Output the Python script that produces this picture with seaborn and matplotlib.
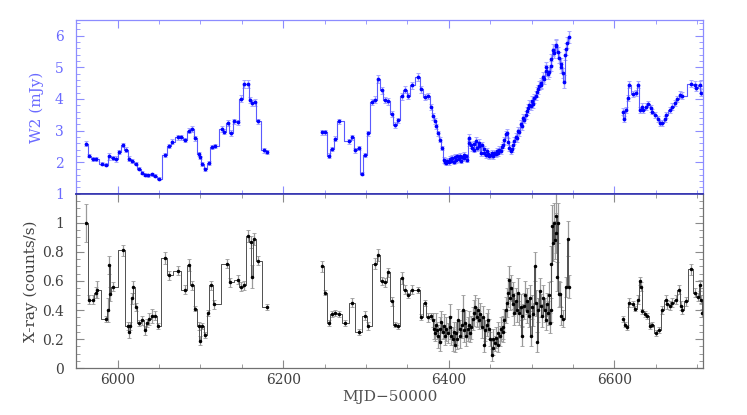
import numpy as np
import pandas as pd
import matplotlib
matplotlib.use("Agg")
import matplotlib.pyplot as plt
import seaborn as sns
from matplotlib.ticker import MultipleLocator, FixedLocator

# ---- W2 (UVOT) light curve, MJD-50000 / mJy ----
w2_t = [5962, 5966, 5970, 5974, 5981, 5986, 5990, 5994, 5998, 6002,
        6006, 6010, 6014, 6018, 6022, 6026, 6030, 6033, 6037, 6041,
        6045, 6050, 6057, 6062, 6066, 6073, 6077, 6082, 6086, 6090,
        6094, 6098, 6099, 6102, 6106, 6110, 6114, 6118, 6126, 6129,
        6133, 6137, 6141, 6145, 6149, 6153, 6157, 6160, 6162, 6166,
        6169, 6177, 6181,
        6247, 6251, 6255, 6259, 6263, 6267, 6280, 6283, 6287, 6291,
        6295, 6299, 6303, 6307, 6311, 6315, 6319, 6323, 6327, 6331,
        6335, 6339, 6343, 6347, 6351, 6355, 6363, 6367, 6371, 6375,
        6379, 6381, 6383, 6385, 6387, 6390, 6392,
        6394, 6395, 6397, 6398, 6400, 6401, 6403, 6404, 6406, 6407,
        6409, 6410, 6412, 6413, 6415, 6416, 6418, 6419, 6421, 6422,
        6424, 6425, 6427, 6428, 6430, 6431, 6433, 6434, 6436, 6437,
        6439, 6440, 6442, 6443, 6445, 6446, 6448, 6449, 6451, 6452,
        6454, 6455, 6457, 6458, 6460, 6461, 6463, 6464, 6466, 6467,
        6469, 6470, 6472, 6473, 6475, 6476, 6478, 6479, 6481, 6482,
        6484, 6485, 6487, 6488, 6490, 6491, 6493, 6494, 6496, 6497,
        6499, 6500, 6502, 6503, 6505, 6506, 6508, 6509, 6511, 6512,
        6514, 6515, 6517, 6518, 6520, 6521, 6523, 6524, 6526, 6527,
        6529, 6530, 6532, 6533, 6535, 6536, 6538, 6539, 6541, 6542,
        6543, 6545,
        6610, 6612, 6614, 6616, 6618, 6622, 6626, 6629, 6631, 6633,
        6635, 6638, 6641, 6644, 6646, 6649, 6653, 6655, 6658, 6661,
        6663, 6667, 6670, 6673, 6676, 6679, 6682, 6693, 6697, 6699,
        6703, 6705]
w2 = [2.58, 2.21, 2.10, 2.10, 1.95, 1.92, 2.18, 2.13, 2.10, 2.31,
      2.54, 2.39, 2.11, 2.05, 1.95, 1.79, 1.67, 1.60, 1.58, 1.62,
      1.57, 1.48, 2.23, 2.52, 2.65, 2.79, 2.79, 2.71, 3.00, 3.06,
      2.75, 2.26, 2.15, 1.95, 1.78, 1.97, 2.48, 2.52, 3.05, 2.97,
      3.24, 2.92, 3.29, 3.26, 4.00, 4.48, 4.48, 3.97, 3.87, 3.89,
      3.29, 2.37, 2.31,
      2.94, 2.95, 2.21, 2.41, 2.74, 3.29, 2.66, 2.79, 2.37, 2.45,
      1.63, 2.23, 2.92, 3.90, 3.97, 4.64, 4.27, 3.97, 3.92, 3.53,
      3.18, 3.32, 4.08, 4.29, 4.10, 4.43, 4.69, 4.31, 4.06, 4.10,
      3.74, 3.45, 3.30, 3.13, 2.92, 2.71, 2.45,
      2.08, 2.02, 1.98, 2.05, 2.00, 2.10, 2.05, 2.12, 2.02, 2.15,
      2.08, 2.18, 2.10, 2.20, 2.05, 2.15, 2.22, 2.12, 2.18, 2.08,
      2.78, 2.62, 2.55, 2.45, 2.40, 2.58, 2.68, 2.45, 2.62, 2.50,
      2.30, 2.55, 2.42, 2.30, 2.22, 2.35, 2.25, 2.18, 2.22, 2.28,
      2.20, 2.30, 2.25, 2.35, 2.28, 2.40, 2.35, 2.48, 2.55, 2.70,
      2.88, 2.92, 2.65, 2.45, 2.35, 2.42, 2.55, 2.68, 2.80, 2.75,
      3.00, 2.95, 3.20, 3.15, 3.40, 3.35, 3.50, 3.62, 3.70, 3.82,
      3.78, 3.95, 3.85, 4.02, 4.10, 4.22, 4.30, 4.42, 4.50, 4.45,
      4.70, 4.62, 4.90, 5.02, 4.78, 4.85, 5.05, 5.25, 5.55, 5.45,
      5.68, 5.72, 5.48, 5.30, 5.12, 5.00, 4.82, 4.55, 5.40, 5.58,
      5.78, 5.95,
      3.60, 3.36, 3.66, 4.03, 4.45, 4.16, 4.19, 4.45, 3.66, 3.76,
      3.66, 3.76, 3.85, 3.70, 3.60, 3.50, 3.36, 3.24, 3.25, 3.36,
      3.50, 3.66, 3.76, 3.87, 4.00, 4.14, 4.10, 4.48, 4.45, 4.35,
      4.45, 4.20]
w2_err = [0.08, 0.06, 0.06, 0.06, 0.05, 0.05, 0.10, 0.07, 0.08, 0.06,
          0.07, 0.08, 0.07, 0.06, 0.05, 0.05, 0.05, 0.05, 0.05, 0.05,
          0.05, 0.04, 0.06, 0.07, 0.07, 0.08, 0.08, 0.07, 0.08, 0.09,
          0.08, 0.07, 0.06, 0.06, 0.05, 0.06, 0.07, 0.07, 0.09, 0.08,
          0.09, 0.09, 0.09, 0.09, 0.11, 0.12, 0.12, 0.10, 0.10, 0.11,
          0.09, 0.07, 0.06,
          0.08, 0.08, 0.07, 0.07, 0.08, 0.09, 0.08, 0.08, 0.07, 0.07,
          0.05, 0.07, 0.08, 0.10, 0.11, 0.12, 0.11, 0.10, 0.10, 0.09,
          0.09, 0.09, 0.11, 0.11, 0.10, 0.12, 0.12, 0.11, 0.10, 0.10,
          0.10, 0.10, 0.09, 0.09, 0.08, 0.08, 0.07,
          0.09, 0.08, 0.08, 0.09, 0.08, 0.09, 0.08, 0.10, 0.08, 0.10,
          0.09, 0.09, 0.08, 0.10, 0.09, 0.09, 0.10, 0.09, 0.09, 0.08,
          0.11, 0.10, 0.10, 0.09, 0.09, 0.10, 0.11, 0.10, 0.11, 0.10,
          0.09, 0.10, 0.10, 0.09, 0.09, 0.10, 0.09, 0.08, 0.09, 0.09,
          0.09, 0.09, 0.09, 0.10, 0.09, 0.10, 0.09, 0.10, 0.10, 0.11,
          0.11, 0.12, 0.11, 0.10, 0.09, 0.10, 0.10, 0.11, 0.11, 0.11,
          0.12, 0.11, 0.12, 0.12, 0.13, 0.12, 0.13, 0.13, 0.13, 0.14,
          0.13, 0.14, 0.13, 0.14, 0.14, 0.15, 0.14, 0.15, 0.15, 0.15,
          0.16, 0.15, 0.16, 0.16, 0.15, 0.16, 0.16, 0.17, 0.18, 0.17,
          0.18, 0.18, 0.17, 0.17, 0.16, 0.17, 0.16, 0.20, 0.17, 0.18,
          0.18, 0.19,
          0.10, 0.09, 0.10, 0.10, 0.11, 0.10, 0.10, 0.11, 0.10, 0.10,
          0.10, 0.10, 0.10, 0.10, 0.09, 0.09, 0.09, 0.09, 0.09, 0.09,
          0.09, 0.10, 0.10, 0.10, 0.10, 0.11, 0.11, 0.11, 0.11, 0.11,
          0.11, 0.11]

# ---- X-ray (XRT) light curve, counts/s ----
xr_t = [5962, 5966, 5970, 5974, 5975, 5986, 5989, 5990, 5991, 5994,
        6006, 6012, 6014, 6015, 6018, 6019, 6022, 6026, 6030, 6033,
        6036, 6038, 6042, 6045, 6049, 6057, 6062, 6073, 6081, 6086,
        6090, 6094, 6098, 6099, 6102, 6106, 6109, 6113, 6117, 6132,
        6136, 6145, 6149, 6153, 6157, 6161, 6162, 6165, 6169, 6181,
        6247, 6251, 6255, 6259, 6263, 6267, 6275, 6283, 6291, 6299,
        6303, 6311, 6315, 6319, 6323, 6327, 6331, 6335, 6339, 6343,
        6347, 6351, 6355, 6363, 6367, 6371, 6375, 6379,
        6381, 6382, 6383, 6384, 6386, 6387, 6389, 6390, 6391, 6393,
        6394, 6396, 6397, 6399, 6401, 6402, 6403, 6405, 6406, 6407,
        6409, 6410, 6411, 6413, 6414, 6416, 6417, 6419, 6420, 6421,
        6423, 6424, 6426, 6427, 6429, 6431, 6432, 6434, 6435, 6437,
        6438, 6440, 6441, 6443, 6444, 6446, 6447, 6449, 6450, 6452,
        6453, 6454, 6456, 6457, 6459, 6460, 6462, 6463, 6465, 6466,
        6467, 6469, 6470, 6472, 6473, 6474, 6475, 6477, 6478, 6479,
        6481, 6482, 6484, 6485, 6487, 6488, 6489, 6491, 6492, 6494,
        6495, 6497, 6498, 6499, 6501, 6502, 6504, 6505, 6507, 6508,
        6510, 6511, 6513, 6514, 6516, 6517, 6519, 6520, 6521, 6522,
        6523, 6524, 6525, 6526, 6527, 6528, 6529, 6530, 6531, 6532,
        6533, 6534, 6536, 6538, 6542, 6544, 6545,
        6610, 6613, 6615, 6618, 6622, 6625, 6629, 6631, 6632, 6634,
        6637, 6640, 6643, 6646, 6650, 6654, 6658, 6662, 6664, 6667,
        6670, 6674, 6678, 6681, 6682, 6686, 6693, 6697, 6701, 6703,
        6705, 6706]
xr = [1.00, 0.47, 0.47, 0.52, 0.54, 0.34, 0.40, 0.71, 0.51, 0.56,
      0.81, 0.29, 0.25, 0.29, 0.48, 0.56, 0.42, 0.31, 0.33, 0.26,
      0.31, 0.34, 0.36, 0.36, 0.29, 0.76, 0.64, 0.67, 0.54, 0.71,
      0.57, 0.41, 0.29, 0.19, 0.29, 0.23, 0.38, 0.57, 0.44, 0.72,
      0.59, 0.61, 0.56, 0.57, 0.91, 0.87, 0.63, 0.89, 0.74, 0.42,
      0.70, 0.52, 0.31, 0.37, 0.38, 0.37, 0.31, 0.45, 0.25, 0.36,
      0.29, 0.72, 0.78, 0.60, 0.59, 0.66, 0.46, 0.30, 0.29, 0.62,
      0.54, 0.50, 0.54, 0.54, 0.35, 0.45, 0.35, 0.36,
      0.33, 0.27, 0.24, 0.30, 0.26, 0.22, 0.18, 0.27, 0.32, 0.25,
      0.29, 0.22, 0.27, 0.24, 0.35, 0.28, 0.22, 0.20, 0.25, 0.16,
      0.24, 0.20, 0.33, 0.27, 0.22, 0.30, 0.40, 0.26, 0.31, 0.22,
      0.27, 0.30, 0.24, 0.28, 0.34, 0.38, 0.42, 0.35, 0.40, 0.33,
      0.37, 0.28, 0.35, 0.16, 0.26, 0.30, 0.33, 0.27, 0.20, 0.09,
      0.14, 0.20, 0.17, 0.21, 0.16, 0.24, 0.22, 0.27, 0.25, 0.28,
      0.33, 0.40, 0.45, 0.52, 0.61, 0.48, 0.55, 0.44, 0.50, 0.38,
      0.46, 0.40, 0.52, 0.38, 0.42, 0.22, 0.36, 0.43, 0.50, 0.39,
      0.46, 0.36, 0.48, 0.22, 0.42, 0.37, 0.70, 0.45, 0.18, 0.40,
      0.53, 0.43, 0.36, 0.48, 0.40, 0.33, 0.44, 0.38, 0.50, 0.31,
      0.40, 0.72, 0.98, 0.86, 1.00, 0.88, 0.93, 1.05, 0.63, 1.00,
      0.51, 0.51, 0.36, 0.34, 0.56, 0.89, 0.56,
      0.34, 0.30, 0.28, 0.45, 0.44, 0.41, 0.47, 0.60, 0.56, 0.39,
      0.37, 0.36, 0.29, 0.30, 0.24, 0.26, 0.40, 0.47, 0.44, 0.43,
      0.45, 0.47, 0.54, 0.43, 0.40, 0.46, 0.68, 0.52, 0.49, 0.57,
      0.47, 0.38]
xr_err = [0.13, 0.03, 0.03, 0.04, 0.06, 0.02, 0.08, 0.06, 0.05, 0.03,
          0.04, 0.03, 0.04, 0.03, 0.04, 0.04, 0.03, 0.02, 0.03, 0.03,
          0.03, 0.04, 0.05, 0.03, 0.02, 0.04, 0.03, 0.03, 0.03, 0.04,
          0.03, 0.02, 0.03, 0.03, 0.02, 0.02, 0.02, 0.03, 0.03, 0.03,
          0.03, 0.03, 0.03, 0.03, 0.04, 0.04, 0.08, 0.04, 0.03, 0.02,
          0.04, 0.02, 0.02, 0.02, 0.02, 0.02, 0.02, 0.03, 0.02, 0.03,
          0.03, 0.04, 0.04, 0.03, 0.03, 0.03, 0.03, 0.02, 0.02, 0.04,
          0.03, 0.02, 0.03, 0.02, 0.02, 0.02, 0.03, 0.02,
          0.05, 0.07, 0.05, 0.08, 0.06, 0.08, 0.06, 0.08, 0.07, 0.05,
          0.08, 0.06, 0.08, 0.07, 0.09, 0.08, 0.06, 0.08, 0.07, 0.05,
          0.08, 0.07, 0.08, 0.06, 0.08, 0.09, 0.10, 0.08, 0.09, 0.07,
          0.08, 0.09, 0.06, 0.08, 0.08, 0.09, 0.08, 0.07, 0.08, 0.06,
          0.08, 0.07, 0.08, 0.05, 0.07, 0.08, 0.08, 0.07, 0.05, 0.04,
          0.05, 0.07, 0.05, 0.07, 0.05, 0.08, 0.07, 0.08, 0.07, 0.08,
          0.08, 0.09, 0.10, 0.10, 0.09, 0.08, 0.09, 0.08, 0.09, 0.08,
          0.09, 0.08, 0.10, 0.08, 0.09, 0.07, 0.08, 0.09, 0.10, 0.08,
          0.09, 0.08, 0.09, 0.07, 0.08, 0.08, 0.10, 0.09, 0.07, 0.08,
          0.09, 0.08, 0.08, 0.09, 0.08, 0.07, 0.08, 0.08, 0.09, 0.07,
          0.08, 0.12, 0.14, 0.12, 0.14, 0.13, 0.14, 0.16, 0.10, 0.14,
          0.09, 0.08, 0.06, 0.06, 0.07, 0.12, 0.08,
          0.02, 0.02, 0.02, 0.03, 0.02, 0.02, 0.03, 0.03, 0.03, 0.02,
          0.02, 0.02, 0.02, 0.02, 0.02, 0.02, 0.03, 0.03, 0.03, 0.03,
          0.03, 0.03, 0.03, 0.03, 0.03, 0.03, 0.04, 0.03, 0.03, 0.04,
          0.03, 0.03]


def as_frame(t, v, e):
    df = pd.DataFrame({"t": t, "v": v, "e": e})
    # break the step line across the big observing gaps
    df["seg"] = np.concatenate([[0], np.cumsum(np.diff(df["t"]) > 30)])
    return df


w2_df = as_frame(w2_t, w2, w2_err)
xr_df = as_frame(xr_t, xr, xr_err)

sns.set_style("ticks")
plt.rcParams["font.family"] = ["DejaVu Serif"]
plt.rcParams["font.size"] = 10

fig = plt.figure(figsize=(7.47, 4.15), dpi=100)
ax1 = fig.add_axes([0.102, 0.533, 0.839, 0.419])
ax2 = fig.add_axes([0.102, 0.113, 0.839, 0.420], sharex=ax1)

blue_frame = "#8c8cff"
blue_text = "#6a6aff"

# top: W2
ax1.errorbar(w2_df["t"], w2_df["v"], yerr=w2_df["e"], fmt="none",
             ecolor="#a8a8ff", elinewidth=1.0, capsize=1.6, capthick=0.7)
sns.lineplot(data=w2_df, x="t", y="v", units="seg", estimator=None,
             drawstyle="steps-mid", color="#5a5aff", lw=0.8, ax=ax1)
ax1.plot(w2_df["t"], w2_df["v"], ls="none", marker="o", ms=1.7, color="#0000ff")

# bottom: X-ray
ax2.errorbar(xr_df["t"], xr_df["v"], yerr=xr_df["e"], fmt="none",
             ecolor="#9a9a9a", elinewidth=0.9, capsize=1.6, capthick=0.6)
sns.lineplot(data=xr_df, x="t", y="v", units="seg", estimator=None,
             drawstyle="steps-mid", color="#505050", lw=0.7, ax=ax2)
ax2.plot(xr_df["t"], xr_df["v"], ls="none", marker="o", ms=1.5, color="black")

ax1.set_xlim(5950, 6707)
ax1.set_ylim(1, 6.5)
ax2.set_ylim(0, 1.2)

ax1.xaxis.set_major_locator(MultipleLocator(200))
ax1.xaxis.set_minor_locator(MultipleLocator(50))
ax1.yaxis.set_major_locator(MultipleLocator(1))
ax1.yaxis.set_minor_locator(MultipleLocator(0.2))
ax2.yaxis.set_major_locator(FixedLocator([0, 0.2, 0.4, 0.6, 0.8, 1.0]))
ax2.yaxis.set_minor_locator(MultipleLocator(0.05))
ax2.set_yticklabels(["0", "0.2", "0.4", "0.6", "0.8", "1"])

for ax in (ax1, ax2):
    ax.tick_params(which="both", direction="in", top=True, right=True)
    ax.tick_params(which="major", length=6, width=0.8)
    ax.tick_params(which="minor", length=3, width=0.6)
    ax.tick_params(axis="y", which="major", pad=9)

ax1.tick_params(which="both", colors=blue_frame, labelcolor=blue_text,
                labelbottom=False)
for s in ax1.spines.values():
    s.set_color(blue_frame)
    s.set_linewidth(0.9)
ax1.spines["bottom"].set_color("#3535b0")
ax1.spines["bottom"].set_linewidth(1.2)
ax1.set_yticks([1, 2, 3, 4, 5, 6])
ax1.set_yticklabels(["1", "2", "3", "4", "5", "6"])

ax2.tick_params(which="both", colors="#8a8a8a", labelcolor="#404040")
for s in ax2.spines.values():
    s.set_color("#707070")
    s.set_linewidth(0.9)
ax2.spines["top"].set_color("#3535b0")
ax2.spines["top"].set_linewidth(1.2)

ax1.set_xlabel("")
ax1.set_ylabel("W2 (mJy)", color=blue_text, fontsize=11, labelpad=8)
ax2.set_ylabel("X-ray (counts/s)", color="#404040", fontsize=11, labelpad=3)
ax2.set_xlabel("MJD\u221250000", color="#505050", fontsize=11, labelpad=2)

fig.savefig("out.png", dpi=100)
